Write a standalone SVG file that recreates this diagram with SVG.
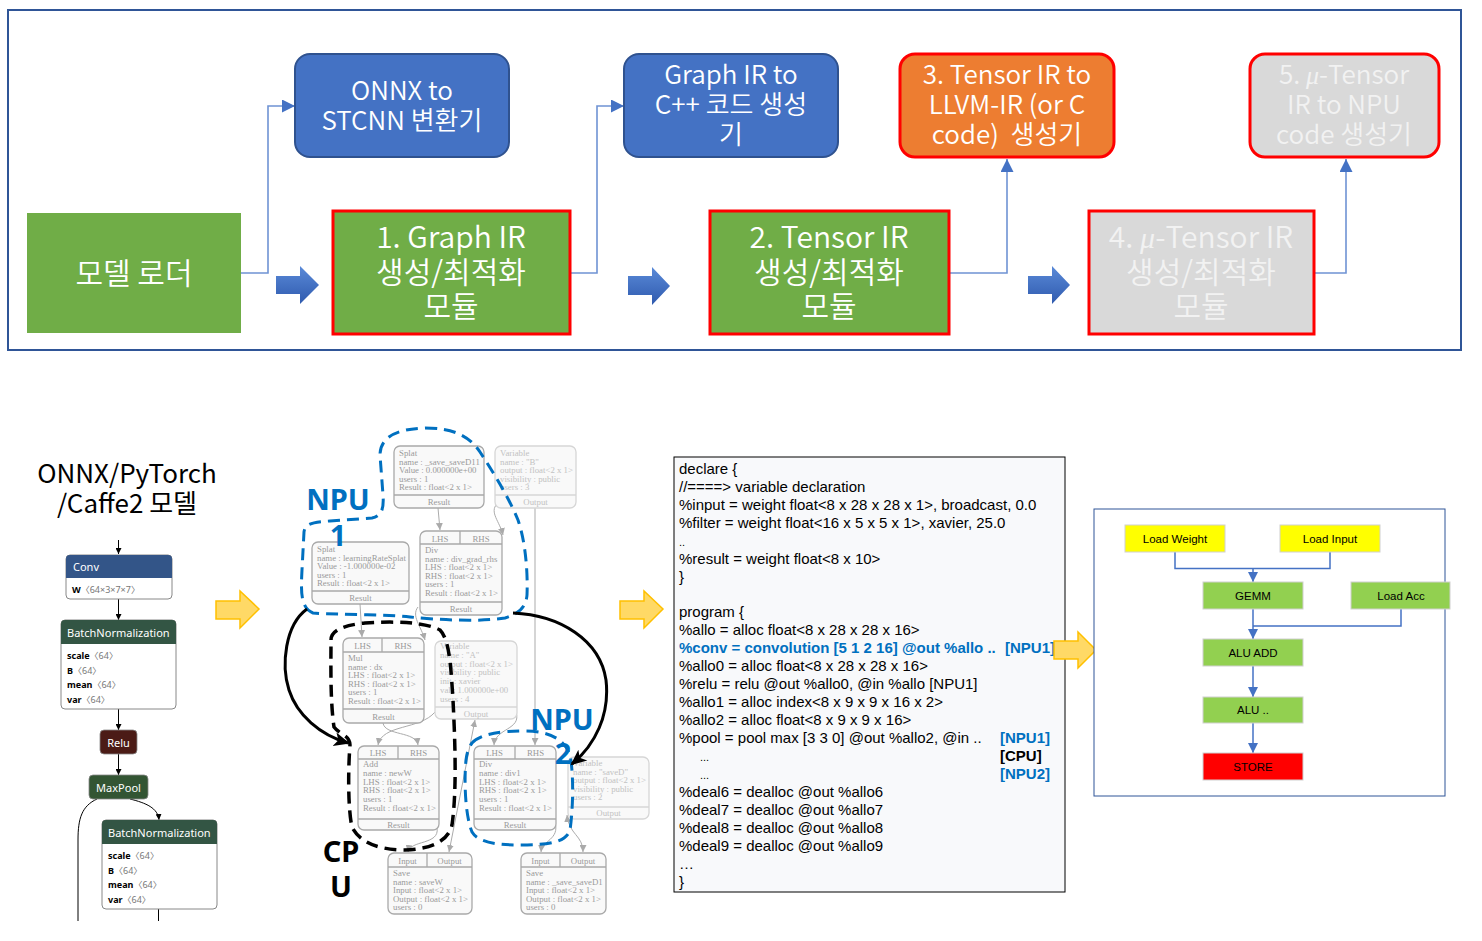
<svg xmlns="http://www.w3.org/2000/svg" width="1482" height="941" viewBox="0 0 1482 941">
<style>
.tb{font-family:"Noto Sans CJK KR","Noto Sans",sans-serif;fill:#fff;text-anchor:middle;font-weight:350}
.tbg{fill:#F2F2F2}
.big{font-size:30px}
.sm{font-size:26px}
.mu{font-family:"Liberation Serif",serif;font-style:italic}
.conn{fill:none;stroke:#6F93D4;stroke-width:1.6}
.gn rect,.gn line{fill:#f9f9f9;stroke:#a9a9a9;stroke-width:1.3}
.gn text{font-family:"Liberation Serif",serif;font-size:8.8px;fill:#999}
.gf rect,.gf line{stroke:#d6d6d6}
.gf text{fill:#c2c2c2}
.gn .c{text-anchor:middle}
.ge{fill:none;stroke:#ababab;stroke-width:1}
.nt{font-family:"Noto Sans","Noto Sans CJK KR",sans-serif;font-size:11px;fill:#fff}
.nb{font-family:"Noto Sans","Noto Sans CJK KR",sans-serif;font-size:9px;fill:#000}
.nb tspan.v{fill:#777;font-weight:400}
.nl{fill:none;stroke:#000;stroke-width:1}
.code{font-family:"Liberation Sans",Arial,sans-serif;font-size:15px;fill:#000}
.cb{font-weight:bold;fill:#0070C0}
.ck{font-weight:bold;fill:#000}
.lbl{font-family:"Noto Sans","Noto Sans CJK KR",sans-serif;font-weight:bold;font-size:29px;text-anchor:middle}
.fl rect{stroke:#d0d0d0;stroke-width:1}
.fl text{font-family:"Liberation Sans",Arial,sans-serif;font-size:11.5px;fill:#000;text-anchor:middle}
.fc{fill:none;stroke:#4472C4;stroke-width:1.5}
.ya{fill:#FFD966;stroke:#FFC000;stroke-width:1.5}
</style>
<defs>
<linearGradient id="bg" x1="0" y1="0" x2="0" y2="1">
<stop offset="0" stop-color="#5A8AD8"/><stop offset="1" stop-color="#2F5AAE"/>
</linearGradient>
<marker id="ab" markerUnits="userSpaceOnUse" markerWidth="13" markerHeight="13" refX="13" refY="6.5" orient="auto">
<path d="M0,0 L13,6.5 L0,13 Z" fill="#4472C4"/>
</marker>
<marker id="af" markerUnits="userSpaceOnUse" markerWidth="10" markerHeight="10" refX="10" refY="5" orient="auto">
<path d="M0,0 L10,5 L0,10 Z" fill="#4472C4"/>
</marker>
<marker id="ag" markerUnits="userSpaceOnUse" markerWidth="7" markerHeight="7" refX="7" refY="3.5" orient="auto-start-reverse">
<path d="M0,0 L7,3.5 L0,7 Z" fill="#aaaaaa"/>
</marker>
<marker id="an" markerUnits="userSpaceOnUse" markerWidth="6" markerHeight="6" refX="6" refY="3" orient="auto">
<path d="M0,0 L6,3 L0,6 Z" fill="#000"/>
</marker>
<marker id="ak" markerUnits="userSpaceOnUse" markerWidth="16" markerHeight="16" refX="14" refY="8" orient="auto">
<path d="M0,1 L16,8 L0,15 L4,8 Z" fill="#000"/>
</marker>
</defs>

<rect x="0" y="0" width="1482" height="941" fill="#fff"/>

<!-- Top frame -->
<rect x="8" y="10" width="1453" height="340" fill="none" stroke="#2F5597" stroke-width="2"/>

<g id="top-connectors">
<path class="conn" d="M241,273 H268 V106 H295" marker-end="url(#ab)"/>
<path class="conn" d="M571,273 H597 V106 H624" marker-end="url(#ab)"/>
<path class="conn" d="M950,273 H1007 V159" marker-end="url(#ab)"/>
<path class="conn" d="M1315,273 H1346 V159" marker-end="url(#ab)"/>
<polygon points="276,276 300,276 300,266 319,285 300,304 300,294 276,294" fill="url(#bg)"/>
<polygon points="628,276 652,276 652,267 670,286 652,305 652,295 628,295" fill="url(#bg)"/>
<polygon points="1028,276 1052,276 1052,266 1070,285 1052,304 1052,294 1028,294" fill="url(#bg)"/>
</g>

<g id="model-loader">
<rect x="27" y="213" width="214" height="120" fill="#70AD47"/>
<text class="tb big" x="134" y="284">모델 로더</text>
</g>
<g id="onnx-to-stcnn">
<rect x="295" y="54" width="214" height="103" rx="15" fill="#4472C4" stroke="#2F528F" stroke-width="2"/>
<text class="tb sm" x="402" y="100">ONNX to<tspan x="402" dy="30">STCNN 변환기</tspan></text>
</g>
<g id="graph-ir-module">
<rect x="333" y="211" width="237" height="123" fill="#70AD47" stroke="#FF0000" stroke-width="3"/>
<text class="tb big" x="451" y="248">1. Graph IR<tspan x="451" dy="35">생성/최적화</tspan><tspan x="451" dy="34">모듈</tspan></text>
</g>
<g id="graph-ir-to-cpp">
<rect x="624" y="54" width="214" height="103" rx="15" fill="#4472C4" stroke="#2F528F" stroke-width="2"/>
<text class="tb sm" x="731" y="84">Graph IR to<tspan x="731" dy="30">C++ 코드 생성</tspan><tspan x="731" dy="30">기</tspan></text>
</g>
<g id="tensor-ir-module">
<rect x="710" y="211" width="239" height="123" fill="#70AD47" stroke="#FF0000" stroke-width="3"/>
<text class="tb big" x="829" y="248">2. Tensor IR<tspan x="829" dy="35">생성/최적화</tspan><tspan x="829" dy="34">모듈</tspan></text>
</g>
<g id="tensor-ir-to-llvm">
<rect x="900" y="54" width="214" height="103" rx="15" fill="#ED7D31" stroke="#FF0000" stroke-width="3"/>
<text class="tb sm" x="1007" y="84" xml:space="preserve">3. Tensor IR to<tspan x="1007" dy="30">LLVM-IR (or C</tspan><tspan x="1007" dy="30">code)  생성기</tspan></text>
</g>
<g id="mu-tensor-ir-module">
<rect x="1089" y="211" width="225" height="123" fill="#D9D9D9" stroke="#FF0000" stroke-width="3"/>
<text class="tb tbg big" x="1201" y="248">4. <tspan class="mu">μ</tspan>-Tensor IR<tspan x="1201" dy="35">생성/최적화</tspan><tspan x="1201" dy="34">모듈</tspan></text>
</g>
<g id="mu-tensor-ir-to-npu">
<rect x="1250" y="54" width="189" height="103" rx="15" fill="#D9D9D9" stroke="#FF0000" stroke-width="3"/>
<text class="tb tbg sm" x="1344" y="84">5. <tspan class="mu">μ</tspan>-Tensor<tspan x="1344" dy="30">IR to NPU</tspan><tspan x="1344" dy="30">code 생성기</tspan></text>
</g>

<!-- Left: model label -->
<g id="model-label">
<text x="127" y="483" font-family="Noto Sans CJK KR, Noto Sans, sans-serif" font-size="26" text-anchor="middle" fill="#000">ONNX/PyTorch<tspan x="127" dy="30">/Caffe2 모델</tspan></text>
</g>

<!-- Netron graph -->
<g id="netron-edges">
<path class="nl" d="M118.5,540 V554" marker-end="url(#an)"/>
<path class="nl" d="M118.5,599 V620" marker-end="url(#an)"/>
<path class="nl" d="M118.5,709 V730" marker-end="url(#an)"/>
<path class="nl" d="M118.5,754 V775" marker-end="url(#an)"/>
<path class="nl" d="M130,799 C146,803 158,808 159,820" marker-end="url(#an)"/>
<path class="nl" d="M97,799 C82,806 78,818 78,840 V921"/>
<path class="nl" d="M158.5,909 V921"/>
</g>
<g id="netron-conv">
<rect x="66" y="555" width="106" height="44" rx="4" fill="#fff" stroke="#888" stroke-width="1"/>
<path d="M66,578 V559 Q66,555 70,555 H168 Q172,555 172,559 V578 Z" fill="#335588"/>
<text class="nt" x="73" y="571">Conv</text>
<text class="nb" x="72" y="593"><tspan font-weight="bold">W</tspan><tspan class="v">〈64×3×7×7〉</tspan></text>
</g>
<g id="netron-bn1">
<rect x="61" y="620" width="115" height="89" rx="4" fill="#fff" stroke="#888" stroke-width="1"/>
<path d="M61,644 V624 Q61,620 65,620 H172 Q176,620 176,624 V644 Z" fill="#335544"/>
<text class="nt" x="67" y="637">BatchNormalization</text>
<text class="nb" x="67" y="659"><tspan font-weight="bold">scale</tspan><tspan class="v">〈64〉</tspan><tspan x="67" dy="14.5" font-weight="bold">B</tspan><tspan class="v">〈64〉</tspan><tspan x="67" dy="14.5" font-weight="bold">mean</tspan><tspan class="v">〈64〉</tspan><tspan x="67" dy="14.5" font-weight="bold">var</tspan><tspan class="v">〈64〉</tspan></text>
</g>
<g id="netron-relu">
<rect x="100" y="730" width="37" height="24" rx="4" fill="#4B1B16" stroke="#888" stroke-width="0.8"/>
<text class="nt" x="118.5" y="747" text-anchor="middle">Relu</text>
</g>
<g id="netron-maxpool">
<rect x="89" y="775" width="59" height="24" rx="4" fill="#335533" stroke="#888" stroke-width="0.8"/>
<text class="nt" x="118.5" y="792" text-anchor="middle">MaxPool</text>
</g>
<g id="netron-bn2">
<rect x="102" y="820" width="115" height="89" rx="4" fill="#fff" stroke="#888" stroke-width="1"/>
<path d="M102,844 V824 Q102,820 106,820 H213 Q217,820 217,824 V844 Z" fill="#335544"/>
<text class="nt" x="108" y="837">BatchNormalization</text>
<text class="nb" x="108" y="859"><tspan font-weight="bold">scale</tspan><tspan class="v">〈64〉</tspan><tspan x="108" dy="14.5" font-weight="bold">B</tspan><tspan class="v">〈64〉</tspan><tspan x="108" dy="14.5" font-weight="bold">mean</tspan><tspan class="v">〈64〉</tspan><tspan x="108" dy="14.5" font-weight="bold">var</tspan><tspan class="v">〈64〉</tspan></text>
</g>

<!-- Yellow arrows -->
<g id="yellow-arrows">
<polygon class="ya" points="216,601 240,601 240,591 259,609 240,628 240,619 216,619"/>
<polygon class="ya" points="620,601 644,601 644,591 663,609 644,628 644,619 620,619"/>
</g>

<!-- Glow graph -->
<g id="glow-edges">
<path class="ge" d="M438,508 L440,530" marker-end="url(#ag)"/>
<path class="ge" d="M497,504 C489,512 500,522 503,535" marker-end="url(#ag)"/>
<path class="ge" d="M535,508 V745" marker-end="url(#ag)"/>
<path class="ge" d="M360,604 L362,637" marker-end="url(#ag)"/>
<path class="ge" d="M418,607 C411,616 421,626 425,640" marker-end="url(#ag)"/>
<path class="ge" d="M383,723 C385,736 416,731 418,745" marker-end="url(#ag)"/>
<path class="ge" d="M435,712 C420,730 382,724 378,745" marker-end="url(#ag)"/>
<path class="ge" d="M437,828 C440,845 410,840 408,852" marker-end="url(#ag)"/>
<path class="ge" d="M449,852 L475,720" marker-start="url(#ag)" marker-end="url(#ag)"/>
<path class="ge" d="M516,712 C522,730 495,728 494,745" marker-end="url(#ag)"/>
<path class="ge" d="M555,822 C560,840 542,840 541,852" marker-end="url(#ag)"/>
<path class="ge" d="M567,815 C569,835 583,835 583,852" marker-start="url(#ag)" marker-end="url(#ag)"/>
</g>

<g id="glow-splat-saveD11" class="gn">
<rect x="394" y="446" width="90" height="62" rx="6"/>
<line x1="394" y1="495" x2="484" y2="495"/>
<text x="399" y="456">Splat<tspan x="399" dy="8.5">name : _save_saveD11</tspan><tspan x="399" dy="8.5">Value : 0.000000e+00</tspan><tspan x="399" dy="8.5">users : 1</tspan><tspan x="399" dy="8.5">Result : float&lt;2 x 1&gt;</tspan></text>
<text class="c" x="439" y="505">Result</text>
</g>
<g id="glow-var-B" class="gn gf">
<rect x="495" y="446" width="81" height="62" rx="6"/>
<line x1="495" y1="495" x2="576" y2="495"/>
<text x="500" y="456">Variable<tspan x="500" dy="8.5">name : "B"</tspan><tspan x="500" dy="8.5">output : float&lt;2 x 1&gt;</tspan><tspan x="500" dy="8.5">visibility : public</tspan><tspan x="500" dy="8.5">users : 3</tspan></text>
<text class="c" x="535.5" y="505">Output</text>
</g>
<g id="glow-splat-lr" class="gn">
<rect x="312" y="542" width="97" height="62" rx="6"/>
<line x1="312" y1="591" x2="409" y2="591"/>
<text x="317" y="552">Splat<tspan x="317" dy="8.5">name : learningRateSplat</tspan><tspan x="317" dy="8.5">Value : -1.000000e-02</tspan><tspan x="317" dy="8.5">users : 1</tspan><tspan x="317" dy="8.5">Result : float&lt;2 x 1&gt;</tspan></text>
<text class="c" x="360.5" y="601">Result</text>
</g>
<g id="glow-div-grad" class="gn">
<rect x="420" y="531" width="82" height="84" rx="6"/>
<line x1="420" y1="544" x2="502" y2="544"/>
<line x1="460" y1="531" x2="460" y2="544"/>
<line x1="420" y1="602" x2="502" y2="602"/>
<text class="c" x="440" y="541.5">LHS</text>
<text class="c" x="481" y="541.5">RHS</text>
<text x="425" y="553">Div<tspan x="425" dy="8.5">name : div_grad_rhs</tspan><tspan x="425" dy="8.5">LHS : float&lt;2 x 1&gt;</tspan><tspan x="425" dy="8.5">RHS : float&lt;2 x 1&gt;</tspan><tspan x="425" dy="8.5">users : 1</tspan><tspan x="425" dy="8.5">Result : float&lt;2 x 1&gt;</tspan></text>
<text class="c" x="461" y="612">Result</text>
</g>
<g id="glow-mul" class="gn">
<rect x="343" y="638" width="81" height="85" rx="6"/>
<line x1="343" y1="652" x2="424" y2="652"/>
<line x1="382" y1="638" x2="382" y2="652"/>
<line x1="343" y1="709" x2="424" y2="709"/>
<text class="c" x="362.5" y="648.5">LHS</text>
<text class="c" x="403" y="648.5">RHS</text>
<text x="348" y="661">Mul<tspan x="348" dy="8.5">name : dx</tspan><tspan x="348" dy="8.5">LHS : float&lt;2 x 1&gt;</tspan><tspan x="348" dy="8.5">RHS : float&lt;2 x 1&gt;</tspan><tspan x="348" dy="8.5">users : 1</tspan><tspan x="348" dy="8.5">Result : float&lt;2 x 1&gt;</tspan></text>
<text class="c" x="383.5" y="719.5">Result</text>
</g>
<g id="glow-var-A" class="gn gf">
<rect x="435" y="641" width="82" height="78" rx="6"/>
<line x1="435" y1="707" x2="517" y2="707"/>
<text x="440" y="649">Variable<tspan x="440" dy="8.8">name : "A"</tspan><tspan x="440" dy="8.8">output : float&lt;2 x 1&gt;</tspan><tspan x="440" dy="8.8">visibility : public</tspan><tspan x="440" dy="8.8">init : xavier</tspan><tspan x="440" dy="8.8">val : 1.000000e+00</tspan><tspan x="440" dy="8.8">users : 4</tspan></text>
<text class="c" x="476" y="716.5">Output</text>
</g>
<g id="glow-add" class="gn">
<rect x="358" y="746" width="81" height="84" rx="6"/>
<line x1="358" y1="759" x2="439" y2="759"/>
<line x1="398" y1="746" x2="398" y2="759"/>
<line x1="358" y1="819" x2="439" y2="819"/>
<text class="c" x="378" y="755.5">LHS</text>
<text class="c" x="418.5" y="755.5">RHS</text>
<text x="363" y="767">Add<tspan x="363" dy="8.8">name : newW</tspan><tspan x="363" dy="8.8">LHS : float&lt;2 x 1&gt;</tspan><tspan x="363" dy="8.8">RHS : float&lt;2 x 1&gt;</tspan><tspan x="363" dy="8.8">users : 1</tspan><tspan x="363" dy="8.8">Result : float&lt;2 x 1&gt;</tspan></text>
<text class="c" x="398.5" y="828">Result</text>
</g>
<g id="glow-div1" class="gn">
<rect x="474" y="746" width="82" height="84" rx="6"/>
<line x1="474" y1="759" x2="556" y2="759"/>
<line x1="515" y1="746" x2="515" y2="759"/>
<line x1="474" y1="819" x2="556" y2="819"/>
<text class="c" x="494.5" y="755.5">LHS</text>
<text class="c" x="535.5" y="755.5">RHS</text>
<text x="479" y="767">Div<tspan x="479" dy="8.8">name : div1</tspan><tspan x="479" dy="8.8">LHS : float&lt;2 x 1&gt;</tspan><tspan x="479" dy="8.8">RHS : float&lt;2 x 1&gt;</tspan><tspan x="479" dy="8.8">users : 1</tspan><tspan x="479" dy="8.8">Result : float&lt;2 x 1&gt;</tspan></text>
<text class="c" x="515" y="828">Result</text>
</g>
<g id="glow-var-saveD" class="gn gf">
<rect x="568" y="757" width="81" height="62" rx="6"/>
<line x1="568" y1="807" x2="649" y2="807"/>
<text x="573" y="766">Variable<tspan x="573" dy="8.5">name : "saveD"</tspan><tspan x="573" dy="8.5">output : float&lt;2 x 1&gt;</tspan><tspan x="573" dy="8.5">visibility : public</tspan><tspan x="573" dy="8.5">users : 2</tspan></text>
<text class="c" x="608.5" y="816">Output</text>
</g>
<g id="glow-save-W" class="gn">
<rect x="388" y="853" width="84" height="61" rx="6"/>
<line x1="388" y1="867" x2="472" y2="867"/>
<line x1="427" y1="853" x2="427" y2="867"/>
<text class="c" x="407.5" y="863.5">Input</text>
<text class="c" x="449.5" y="863.5">Output</text>
<text x="393" y="876">Save<tspan x="393" dy="8.6">name : saveW</tspan><tspan x="393" dy="8.6">Input : float&lt;2 x 1&gt;</tspan><tspan x="393" dy="8.6">Output : float&lt;2 x 1&gt;</tspan><tspan x="393" dy="8.6">users : 0</tspan></text>
</g>
<g id="glow-save-saveD1" class="gn">
<rect x="521" y="853" width="85" height="61" rx="6"/>
<line x1="521" y1="867" x2="606" y2="867"/>
<line x1="560" y1="853" x2="560" y2="867"/>
<text class="c" x="540.5" y="863.5">Input</text>
<text class="c" x="583" y="863.5">Output</text>
<text x="526" y="876">Save<tspan x="526" dy="8.6">name : _save_saveD1</tspan><tspan x="526" dy="8.6">Input : float&lt;2 x 1&gt;</tspan><tspan x="526" dy="8.6">Output : float&lt;2 x 1&gt;</tspan><tspan x="526" dy="8.6">users : 0</tspan></text>
</g>

<!-- Partition contours -->
<g id="partitions">
<path d="M313,613 C300,608 301,590 302,570 L304,532 C305,524 312,522 330,521 L372,518 C382,516 384,508 383,495 L380,455 C380,438 395,429 425,428 C450,428 468,434 480,452 C495,475 510,500 518,520 C525,540 528,570 527,595 C526,608 518,614 505,618 C480,622 440,620 410,617 C380,614 340,615 313,613 Z" fill="none" stroke="#0070C0" stroke-width="3" stroke-dasharray="12 7"/>
<path d="M472,743 C480,734 500,731 525,731 C550,731 565,740 570,755 C574,775 573,810 570,830 C566,842 550,845 520,845 C495,845 478,842 472,832 C465,815 464,780 466,760 C467,752 469,747 472,743 Z" fill="none" stroke="#0070C0" stroke-width="3" stroke-dasharray="12 7"/>
<path d="M331,640 C331,630 345,625 365,623 C395,621 425,622 440,630 C450,640 451,670 453,700 C455,740 457,790 452,825 C448,842 430,849 405,850 C380,850 360,843 352,827 C348,810 348,770 350,745 C350,735 340,735 334,727 C330,700 331,660 331,640 Z" fill="none" stroke="#000" stroke-width="3.5" stroke-dasharray="12 7"/>
<path d="M307,609 C285,625 281,665 289,690 C297,715 320,735 348,743" fill="none" stroke="#000" stroke-width="3" marker-end="url(#ak)"/>
<path d="M513,613 C560,615 600,640 606,680 C610,715 595,745 572,764" fill="none" stroke="#000" stroke-width="3" marker-end="url(#ak)"/>
<text class="lbl" x="338" y="510" fill="#0070C0">NPU<tspan x="338" dy="36">1</tspan></text>
<text class="lbl" x="562" y="730" fill="#0070C0">NPU<tspan x="563" dy="34">2</tspan></text>
<text class="lbl" x="341" y="862" fill="#000">CP<tspan x="341" dy="35">U</tspan></text>
</g>

<!-- Code box -->
<g id="code-box">
<rect x="674" y="457" width="391" height="435" fill="#F8F9FB" stroke="#000" stroke-width="1"/>
<text class="code" x="679" y="474">declare {<tspan x="679" dy="18">//====&gt; variable declaration</tspan><tspan x="679" dy="18">%input = weight float&lt;8 x 28 x 28 x 1&gt;, broadcast, 0.0</tspan><tspan x="679" dy="18">%filter = weight float&lt;16 x 5 x 5 x 1&gt;, xavier, 25.0</tspan><tspan x="679" dy="18" font-size="11">..</tspan><tspan x="679" dy="18">%result = weight float&lt;8 x 10&gt;</tspan><tspan x="679" dy="18">}</tspan><tspan x="679" dy="35">program {</tspan><tspan x="679" dy="18">%allo = alloc float&lt;8 x 28 x 28 x 16&gt;</tspan><tspan x="679" dy="18" class="cb">%conv = convolution [5 1 2 16] @out %allo ..</tspan><tspan x="1005" class="cb">[NPU1]</tspan><tspan x="679" dy="18">%allo0 = alloc float&lt;8 x 28 x 28 x 16&gt;</tspan><tspan x="679" dy="18">%relu = relu @out %allo0, @in %allo [NPU1]</tspan><tspan x="679" dy="18">%allo1 = alloc index&lt;8 x 9 x 9 x 16 x 2&gt;</tspan><tspan x="679" dy="18">%allo2 = alloc float&lt;8 x 9 x 9 x 16&gt;</tspan><tspan x="679" dy="18">%pool = pool max [3 3 0] @out %allo2, @in ..</tspan><tspan x="1000" class="cb">[NPU1]</tspan><tspan x="700" dy="18" font-size="11">...</tspan><tspan x="1000" class="ck">[CPU]</tspan><tspan x="700" dy="18" font-size="11">...</tspan><tspan x="1000" class="cb">[NPU2]</tspan><tspan x="679" dy="18">%deal6 = dealloc @out %allo6</tspan><tspan x="679" dy="18">%deal7 = dealloc @out %allo7</tspan><tspan x="679" dy="18">%deal8 = dealloc @out %allo8</tspan><tspan x="679" dy="18">%deal9 = dealloc @out %allo9</tspan><tspan x="679" dy="18">…</tspan><tspan x="679" dy="18">}</tspan></text>
</g>
<polygon id="yellow-arrow-3" class="ya" points="1054,641 1078,641 1078,632 1096,650 1078,668 1078,659 1054,659"/>

<!-- NPU flow -->
<rect x="1094" y="509" width="351" height="287" fill="#fff" stroke="#2F5597" stroke-width="1"/>
<g id="flow-connectors">
<path class="fc" d="M1175,552 V568.5 H1330 V552"/>
<path class="fc" d="M1253,568.5 V582" marker-end="url(#af)"/>
<path class="fc" d="M1253,609 V639" marker-end="url(#af)"/>
<path class="fc" d="M1401,609 V626 H1253"/>
<path class="fc" d="M1253,666 V697" marker-end="url(#af)"/>
<path class="fc" d="M1253,723 V753" marker-end="url(#af)"/>
</g>
<g id="load-weight" class="fl"><rect x="1125" y="525" width="100" height="27" fill="#FFFF00"/><text x="1175" y="543">Load Weight</text></g>
<g id="load-input" class="fl"><rect x="1280" y="525" width="100" height="27" fill="#FFFF00"/><text x="1330" y="543">Load Input</text></g>
<g id="gemm" class="fl"><rect x="1203" y="582" width="100" height="27" fill="#92D050"/><text x="1253" y="600">GEMM</text></g>
<g id="load-acc" class="fl"><rect x="1351" y="582" width="99" height="27" fill="#92D050"/><text x="1401" y="600">Load Acc</text></g>
<g id="alu-add" class="fl"><rect x="1203" y="639" width="100" height="27" fill="#92D050"/><text x="1253" y="657">ALU ADD</text></g>
<g id="alu-etc" class="fl"><rect x="1203" y="697" width="100" height="26" fill="#92D050"/><text x="1253" y="714">ALU ..</text></g>
<g id="store" class="fl"><rect x="1203" y="753" width="100" height="27" fill="#FF0000"/><text x="1253" y="771">STORE</text></g>
</svg>
